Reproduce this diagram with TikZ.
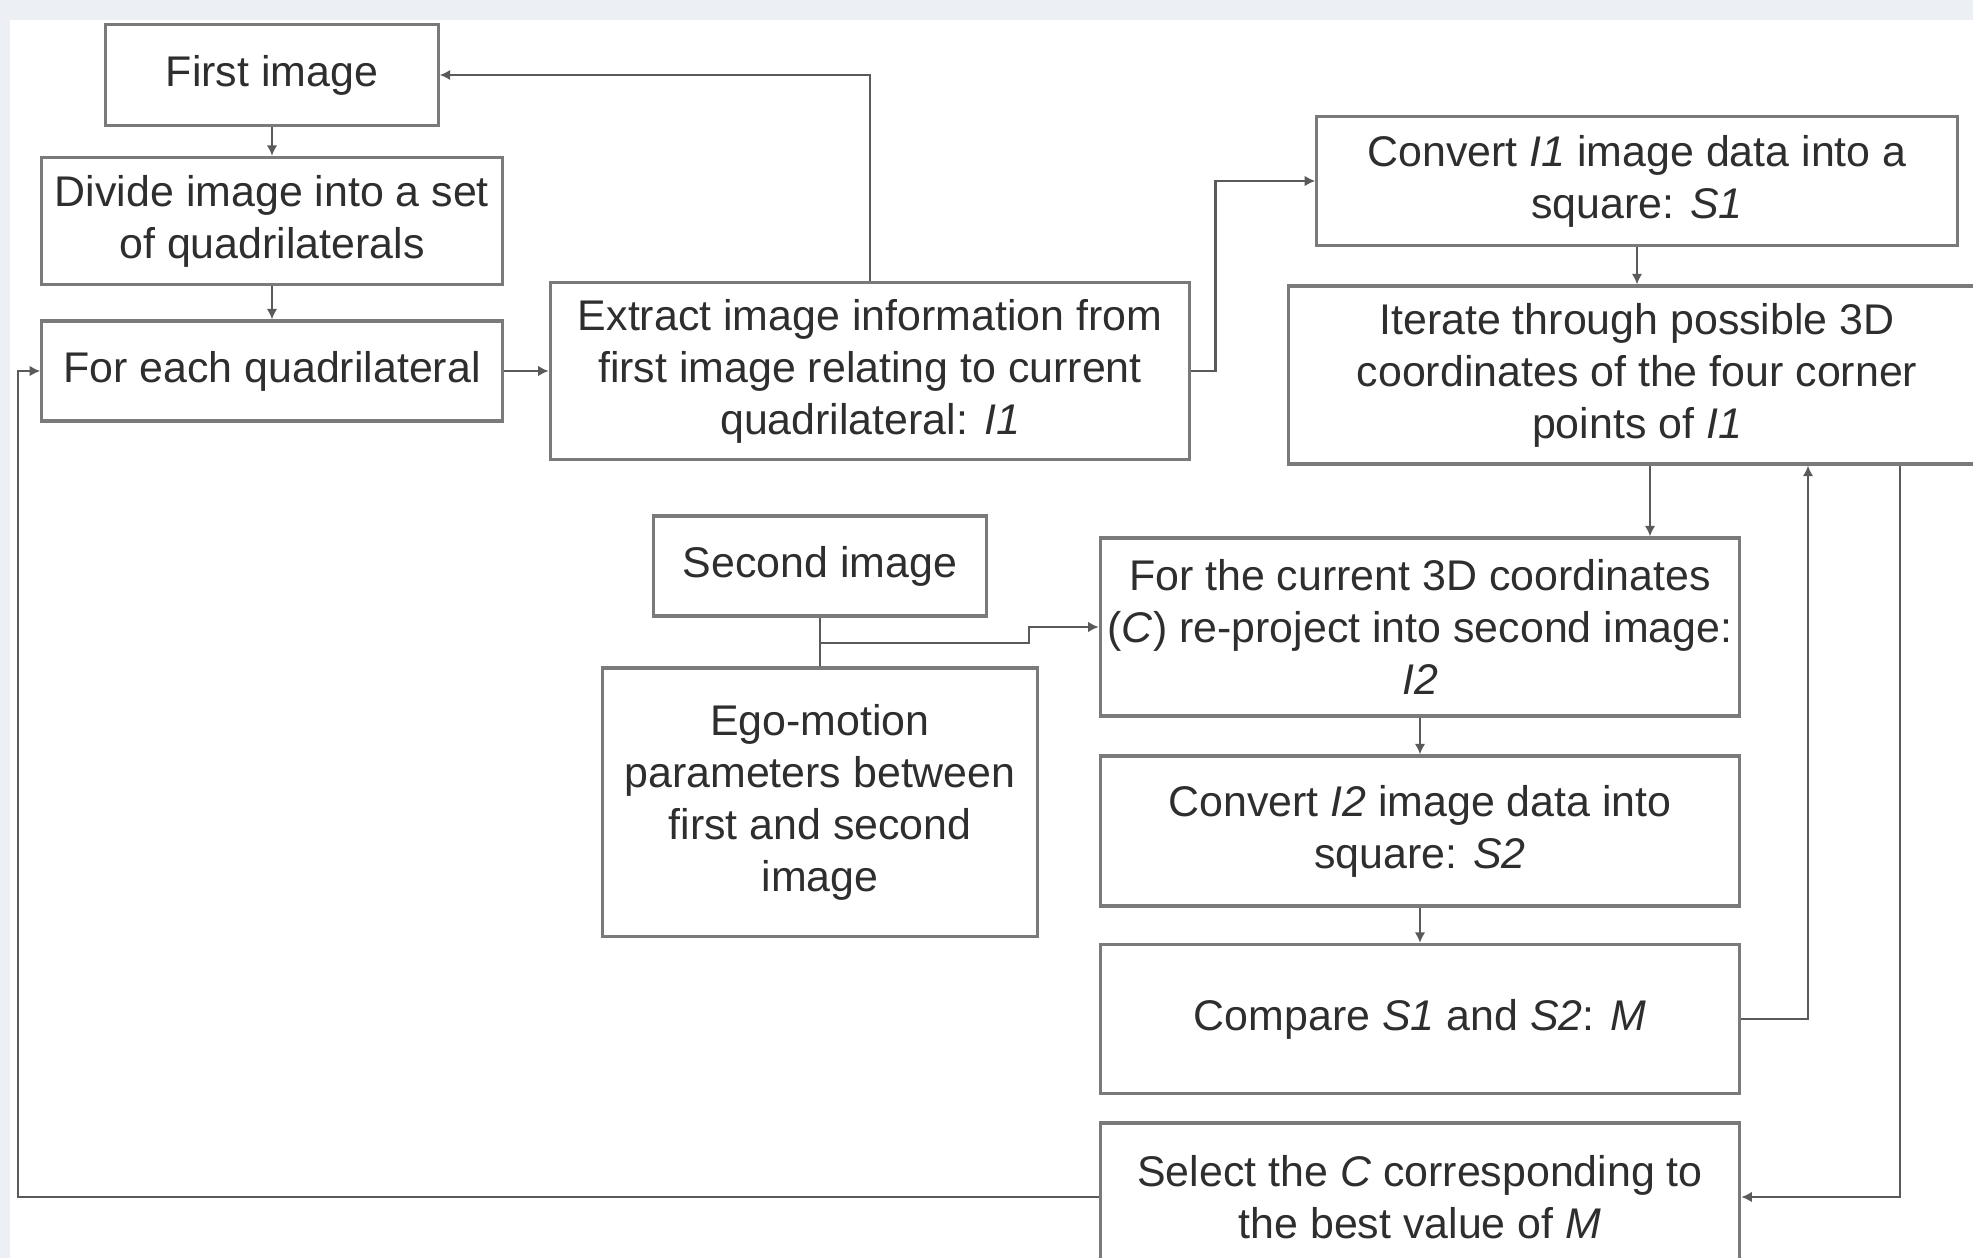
\documentclass[tikz,border=0pt]{standalone}
\usepackage{fontspec}
\setmainfont{Liberation Sans}
\usetikzlibrary{arrows.meta}
\definecolor{framegray}{HTML}{ECEFF4}
\definecolor{linegray}{HTML}{5A5A5A}
\definecolor{boxgray}{HTML}{7A7A7A}
\definecolor{textgray}{HTML}{2E2E2E}

\begin{document}
\begin{tikzpicture}[x=0.01cm, y=-0.01cm,
		box_style/.style={rectangle,draw=boxgray,line width=0.9pt,fill=white,align=center,
			inner sep=0pt,text=textgray,font=\fontsize{12.2}{14.8}\selectfont},
		edge_style/.style={draw=linegray,line width=0.7pt,-{Latex[length=3pt,width=3pt]}},
		line_style/.style={draw=linegray,line width=0.7pt}]
		
		\fill[framegray] (0,0) rectangle (1973,1258);
		\fill[white] (10,20) rectangle (1973,1258);
		\useasboundingbox (0,0) rectangle (1973,1258);
		
		\node[box_style, minimum width=3.32cm, minimum height=1.01cm] (first) at (272,75) {First image};
		\node[box_style, minimum width=4.60cm, minimum height=1.27cm] (divide) at (272,221) {Divide image into a set\\of quadrilaterals};
		\node[box_style, minimum width=4.60cm, minimum height=1.00cm] (each) at (272,371) {For each quadrilateral};
		\node[box_style, minimum width=6.39cm, minimum height=1.77cm] (extract) at (870,371) {Extract image information from\\first image relating to current\\quadrilateral: \textit{I1}};
		\node[box_style, minimum width=6.40cm, minimum height=1.29cm] (conv1) at (1637,181) {Convert \textit{I1} image data into a\\square: \textit{S1}};
		\node[box_style, minimum width=6.96cm, minimum height=1.78cm] (iter) at (1637,375) {Iterate through possible 3D\\coordinates of the four corner\\points of \textit{I1}};
		\node[box_style, minimum width=3.33cm, minimum height=1.00cm] (second) at (820,566) {Second image};
		\node[box_style, minimum width=4.35cm, minimum height=2.68cm] (ego) at (820,802) {Ego-motion\\parameters between\\first and second\\image};
		\node[box_style, minimum width=6.39cm, minimum height=1.78cm] (reproj) at (1420,627) {For the current 3D coordinates\\(\textit{C}) re-project into second image:\\\textit{I2}};
		\node[box_style, minimum width=6.39cm, minimum height=1.50cm] (conv2) at (1420,831) {Convert \textit{I2} image data into\\square: \textit{S2}};
		\node[box_style, minimum width=6.39cm, minimum height=1.49cm] (compare) at (1420,1019) {Compare \textit{S1} and \textit{S2}: \textit{M}};
		\node[box_style, minimum width=6.39cm, minimum height=1.48cm] (select) at (1420,1197) {Select the \textit{C} corresponding to\\the best value of \textit{M}};
		
		\coordinate (down_x) at (1650,0);
		\coordinate (back_x) at (1808,0);
		\coordinate (out_x) at (1900,0);
		\coordinate (loop_x) at (18,0);
		\coordinate (step_x) at (1029,0);
		\coordinate (join) at (820,643);
		
		\draw[edge_style] (first) -- (divide);
		\draw[edge_style] (divide) -- (each);
		\draw[edge_style] (each) -- (extract);
		\draw[edge_style] (extract.north) |- (first.east);
		\draw[edge_style] (extract.east) -- ++(24,0) |- (conv1.west);
		\draw[edge_style] (conv1) -- (iter);
		\draw[edge_style] (iter.south -| down_x) -- (reproj.north -| down_x);
		\draw[line_style] (second) -- (ego);
		\draw[edge_style] (join) -- (join -| step_x) -- ++(0,-16) -- (reproj.west);
		\draw[edge_style] (reproj) -- (conv2);
		\draw[edge_style] (conv2) -- (compare);
		\draw[edge_style] (compare.east) -| (iter.south -| back_x);
		\draw[edge_style] (iter.south -| out_x) |- (select.east);
		\draw[edge_style] (select.west) -- (select.west -| loop_x) |- (each.west);
		
\end{tikzpicture}
\end{document}
